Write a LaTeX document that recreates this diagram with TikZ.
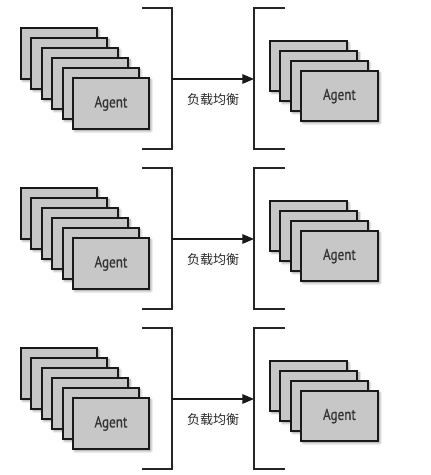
\documentclass[tikz,border=0pt]{standalone}
\usepackage{fontspec}
\usepackage{tikz}
\usetikzlibrary{arrows,shadows.blur}
\newfontfamily\agentfont[FakeStretch=0.82,FakeBold=0.6]{PT Sans}
\newfontfamily\cjk{Noto Sans CJK SC}

\begin{document}
\begin{tikzpicture}[x=1pt, y=-1pt, >=triangle 45,
    card/.style={rectangle, draw=black!90, fill=black!22, line width=1.9pt,
                 minimum width=76pt, minimum height=51pt, anchor=north west,
                 inner sep=0pt, font=\agentfont\fontsize{16}{17}\selectfont,
                 text=black!80, blur shadow={shadow xshift=2pt, shadow yshift=-2pt,
                 shadow blur steps=4, shadow blur radius=2.5pt}},
    bracket/.style={line width=1.8pt, black!85},
    arrow/.style={->, line width=1.7pt, black!90}]
    \useasboundingbox (0,0) rectangle (431,475);
    \foreach \r in {0,1,2} {
        \pgfmathsetmacro{\dy}{160*\r}
        % senders
        \foreach \i in {0,...,4}
            \node[card] (src\r-\i) at (20+10.4*\i, 27+10*\i+\dy) {};
        \node[card] (src\r) at (72, 77+\dy) {Agent};
        % receivers
        \foreach \i in {0,1,2}
            \node[card, minimum width=77pt, minimum height=50pt] (dst\r-\i) at (269+10.3*\i, 40+10*\i+\dy) {};
        \node[card, minimum width=77pt, minimum height=50pt] (dst\r) at (300, 70+\dy) {Agent};
        % brackets
        \coordinate (lb\r) at (172, 79+\dy);
        \coordinate (rb\r) at (254, 79+\dy);
        \draw[bracket] (142, 8+\dy) -- (172, 8+\dy) -- (172, 149+\dy) -- (142, 149+\dy);
        \draw[bracket] (285, 8+\dy) -- (254, 8+\dy) -- (254, 149+\dy) -- (285, 149+\dy);
        \draw[arrow] (lb\r) -- node[below=10pt, font=\cjk\fontsize{13}{14}\selectfont, text=black!85]{负载均衡} (rb\r);
    }
\end{tikzpicture}
\end{document}
